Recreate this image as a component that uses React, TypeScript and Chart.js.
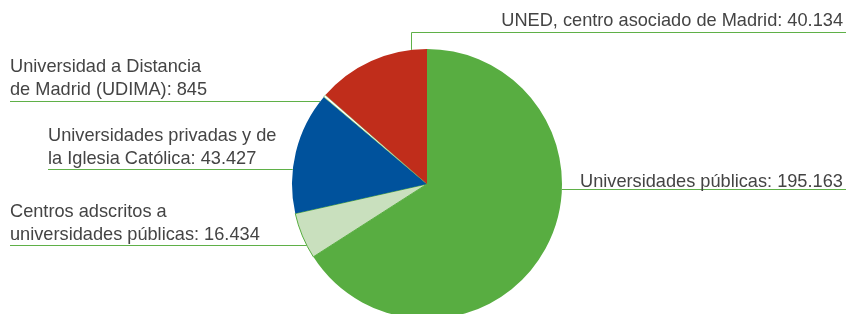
import React, { useEffect, useRef } from "react";
import { Chart, registerables } from "chart.js";

Chart.register(...registerables);

// ---- Data ----
const categories = [
  "Universidades públicas",
  "Centros adscritos a universidades públicas",
  "Universidades privadas y de la Iglesia Católica",
  "Universidad a Distancia de Madrid (UDIMA)",
  "UNED, centro asociado de Madrid",
];
const values = [195163, 16434, 43427, 845, 40134];
const labelLines = [
  ["Universidades públicas"],
  ["Centros adscritos a", "universidades públicas"],
  ["Universidades privadas y de", "la Iglesia Católica"],
  ["Universidad a Distancia", "de Madrid (UDIMA)"],
  ["UNED, centro asociado de Madrid"],
];
const sliceColors = ["#58ad41", "#c9e0be", "#00529c", "#ffffff", "#c02d1b"];
const sliceBorders = [0, 1, 0, 0.6, 0];

// ---- Layout / style ----
const W = 846;
const H = 314;
const CANVAS_H = 340;
const LINE_COLOR = "#5fb048";
const TEXT_COLOR = "#444444";
const FONT = '18.2px "Liberation Sans", Arial, sans-serif';
const LINE_HEIGHT = 23;

type LabelLayout = {
  textX: number;
  align: CanvasTextAlign;
  firstBaseline: number;
  lineY: number;
  outerX: number;
  side: "left" | "right" | "top";
  elbowX?: number;
};
const labelLayout: LabelLayout[] = [
  { textX: 580, align: "left", firstBaseline: 187, lineY: 189.5, outerX: W, side: "right" },
  { textX: 10, align: "left", firstBaseline: 216.5, lineY: 245.5, outerX: 10, side: "left" },
  { textX: 48, align: "left", firstBaseline: 140.5, lineY: 169.5, outerX: 48, side: "left" },
  { textX: 10, align: "left", firstBaseline: 72, lineY: 101.5, outerX: 10, side: "left" },
  { textX: 843, align: "right", firstBaseline: 26, lineY: 32.5, outerX: W, side: "top", elbowX: 411.5 },
];

function fmt(n: number): string {
  return String(n).replace(/\B(?=(\d{3})+(?!\d))/g, ".");
}

const leaderPlugin = {
  id: "leaders",
  afterDraw(chart: any) {
    const meta = chart.getDatasetMeta(0);
    const arc = meta.data[0];
    if (!arc) return;
    const cx = arc.x;
    const cy = arc.y;
    const r = arc.outerRadius;
    const ctx = chart.ctx as CanvasRenderingContext2D;
    ctx.save();
    ctx.strokeStyle = LINE_COLOR;
    ctx.lineWidth = 1;
    ctx.font = FONT;
    ctx.fillStyle = TEXT_COLOR;
    ctx.textBaseline = "alphabetic";
    labelLayout.forEach((lay, i) => {
      ctx.beginPath();
      if (lay.side === "top" && lay.elbowX !== undefined) {
        const dx = lay.elbowX - cx;
        const yEdge = cy - Math.sqrt(Math.max(r * r - dx * dx, 0));
        ctx.moveTo(lay.outerX, lay.lineY);
        ctx.lineTo(lay.elbowX, lay.lineY);
        ctx.lineTo(lay.elbowX, yEdge);
      } else {
        const dy = lay.lineY - cy;
        const half = Math.sqrt(Math.max(r * r - dy * dy, 0));
        const xEdge = lay.side === "left" ? cx - half : cx + half;
        ctx.moveTo(lay.outerX, lay.lineY);
        ctx.lineTo(xEdge, lay.lineY);
      }
      ctx.stroke();
      const lines = labelLines[i].slice();
      lines[lines.length - 1] = lines[lines.length - 1] + ": " + fmt(values[i]);
      ctx.textAlign = lay.align;
      lines.forEach((t, k) => {
        ctx.fillText(t, lay.textX, lay.firstBaseline + k * LINE_HEIGHT);
      });
    });
    ctx.restore();
  },
};

export default function App() {
  const ref = useRef<HTMLCanvasElement | null>(null);
  useEffect(() => {
    if (!ref.current) return;
    const chart = new Chart(ref.current, {
      type: "pie",
      data: {
        labels: categories,
        datasets: [
          {
            data: values,
            backgroundColor: sliceColors,
            borderColor: "#58ad41",
            borderWidth: sliceBorders,
            radius: 135,
          } as any,
        ],
      },
      options: {
        responsive: false,
        animation: false,
        devicePixelRatio: 1,
        layout: { padding: { left: 292, right: 284, top: 49, bottom: 21 } },
        plugins: { legend: { display: false }, tooltip: { enabled: false } },
      },
      plugins: [leaderPlugin],
    });
    return () => chart.destroy();
  }, []);
  return (
    <div style={{ position: "absolute", left: 0, top: 0, width: W, height: H, overflow: "hidden", background: "#ffffff" }}>
      <canvas ref={ref} width={W} height={CANVAS_H} style={{ display: "block", width: W, height: CANVAS_H }} />
    </div>
  );
}
